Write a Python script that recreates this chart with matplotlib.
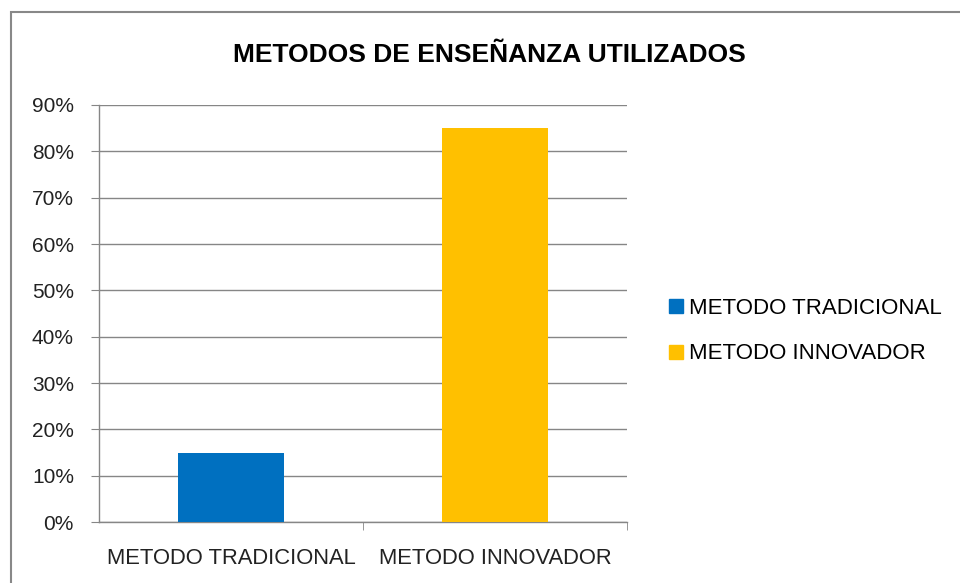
import matplotlib.pyplot as plt
from matplotlib.patches import Rectangle
from matplotlib.lines import Line2D
from matplotlib.ticker import PercentFormatter, FixedLocator

categories = ["METODO TRADICIONAL", "METODO INNOVADOR"]
values = [15, 85]
colors = ["#0070C0", "#FFC000"]
title = "METODOS DE ENSEÑANZA UTILIZADOS"

plt.rcParams['font.family'] = ['Liberation Sans', 'DejaVu Sans']

fig = plt.figure(figsize=(9.6, 5.83), dpi=100)
ax = fig.add_axes([0.1031, 0.1046, 0.55, 0.7153])

x = list(range(len(categories)))
ax.bar(x, values, width=0.4, color=colors, zorder=3)

ax.set_xlim(-0.5, len(categories) - 0.5)
ax.set_ylim(0, 90)
ax.set_yticks(range(0, 91, 10))
ax.yaxis.set_major_formatter(PercentFormatter(decimals=0))
ax.set_xticks(x)
ax.set_xticklabels(categories)
ax.xaxis.set_minor_locator(FixedLocator([i + 0.5 for i in range(len(categories))]))

grid_color = "#868686"
ax.grid(axis="y", color=grid_color, linewidth=1, zorder=0)
for s in ["top", "right"]:
    ax.spines[s].set_visible(False)
for s in ["left", "bottom"]:
    ax.spines[s].set_color(grid_color)
    ax.spines[s].set_linewidth(1)

ax.tick_params(axis="y", length=6, color=grid_color, labelsize=15, labelcolor="#222222", pad=12)
ax.tick_params(axis="x", which="major", length=0, labelsize=15.8, labelcolor="#222222", pad=19)
ax.tick_params(axis="x", which="minor", length=6, color=grid_color)

fig.text(0.51, 0.905, title, ha="center", va="center", fontsize=19, fontweight="bold")

handles = [Line2D([], [], marker="s", linestyle="none", markersize=10,
                  markerfacecolor=c, markeredgecolor=c) for c in colors]
fig.legend(handles, categories, loc="center left", bbox_to_anchor=(0.675, 0.432),
           frameon=False, fontsize=16, handletextpad=0.25, labelspacing=1.1,
           handlelength=0.7)

fig.patches.append(Rectangle((11 / 960, -0.05), 1.1, 1 - 12 / 583 + 0.05,
                             transform=fig.transFigure, fill=False,
                             edgecolor="#888888", linewidth=1.5))

fig.savefig("out.png", dpi=100)
